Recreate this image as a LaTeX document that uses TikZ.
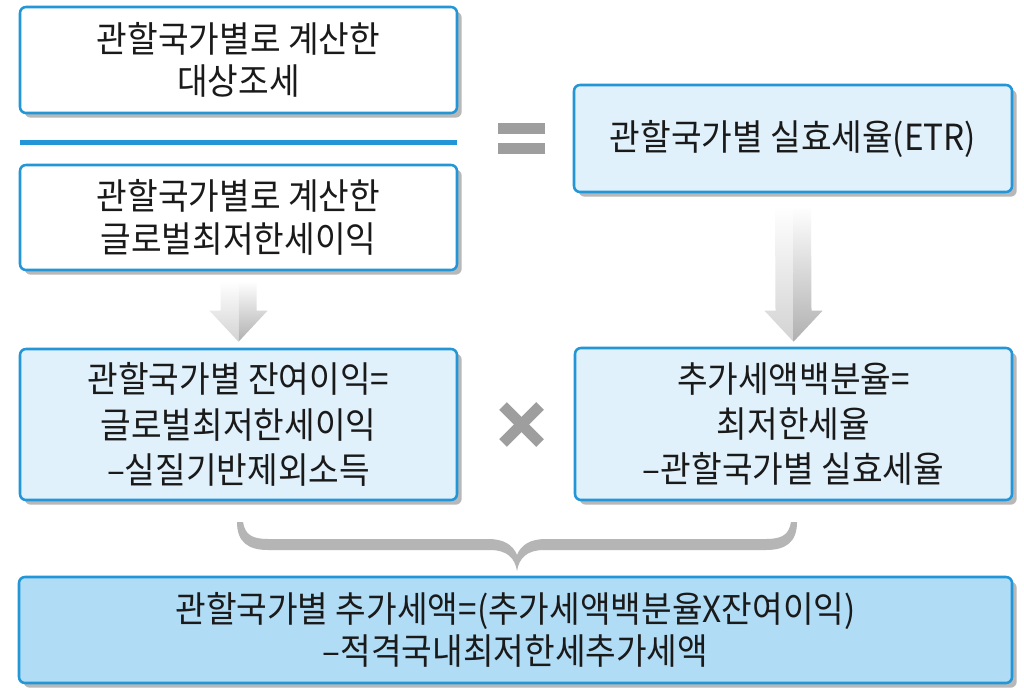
\documentclass[tikz,border=0pt]{standalone}
\usepackage{fontspec}
\newfontfamily\krfont[FakeStretch=0.925]{Noto Sans CJK KR}
\usetikzlibrary{calc,shadows}
\definecolor{bordblue}{HTML}{2396D7}
\definecolor{lightblue}{HTML}{E0F1FB}
\definecolor{midblue}{HTML}{B0DCF5}
\definecolor{shadowgray}{HTML}{B8B8B8}
\definecolor{signgray}{HTML}{9E9E9E}
\definecolor{bracegray}{HTML}{B5B5B5}
\definecolor{txt}{HTML}{1A1A1A}
\newcommand\pxu[1]{#1*0.75pt}
\begin{document}
\begin{tikzpicture}[x=0.75pt,y=-0.75pt,
  card/.style={draw=bordblue, line width=1.9pt, rounded corners=4.5pt, inner sep=0pt,
    align=center, text=txt, font=\krfont\fontsize{27}{32}\selectfont,
    drop shadow={shadow xshift=3.5pt, shadow yshift=-3.5pt, fill=shadowgray, opacity=1}},
  tall/.style={font=\krfont\fontsize{27}{34}\selectfont},
  whitecard/.style={card, fill=white},
  lightcard/.style={card, fill=lightblue},
  midcard/.style={card, fill=midblue},
  arrL/.style={top color=white, bottom color=gray!35, draw=none},
  arrR/.style={top color=white, bottom color=gray!62, draw=none}
]
\fill[white] (0,0) rectangle (1024,688);
\useasboundingbox (0,0) rectangle (1024,688);

% boxes
\node[whitecard, minimum width=\pxu{437}, minimum height=\pxu{106}] (b1) at (238.5,60)
  {관할국가별로 계산한\\대상조세};
\node[whitecard, minimum width=\pxu{437}, minimum height=\pxu{105}] (b2) at (238.5,217.5)
  {관할국가별로 계산한\\글로벌최저한세이익};
\node[lightcard, minimum width=\pxu{438}, minimum height=\pxu{107}] (etr) at (793,138.5)
  {관할국가별 실효세율(ETR)};
\node[lightcard, tall, minimum width=\pxu{437}, minimum height=\pxu{151}] (b3) at (238.5,424.5)
  {관할국가별 잔여이익=\\글로벌최저한세이익\\–실질기반제외소득};
\node[lightcard, tall, minimum width=\pxu{437}, minimum height=\pxu{152}] (b4) at (793.5,424)
  {추가세액백분율=\\최저한세율\\–관할국가별 실효세율};
\node[midcard, minimum width=\pxu{993}, minimum height=\pxu{106}] (b5) at (515.5,630)
  {관할국가별 추가세액=(추가세액백분율X잔여이익)\\–적격국내최저한세추가세액};

% fraction line
\draw[bordblue, line width=3.75pt] (20,142.5) -- (457,142.5);

% equals sign
\fill[signgray] (498,123) rectangle (545,134);
\fill[signgray] (498,143) rectangle (545,154);

% times sign
\draw[signgray, line width=8.2pt] (503,406) -- (540,443);
\draw[signgray, line width=8.2pt] (540,406) -- (503,443);

% block arrow b2 -> b3
\coordinate (a1top) at ($(b2.south)+(0,10)$);
\coordinate (a1tip) at ($(b3.north)+(0,-6)$);
\coordinate (a1hs) at ($(a1tip)+(0,-31)$);
\shade[arrL] ($(a1top)+(-18,0)$) -- ($(a1hs)+(-18,0)$) -- ($(a1hs)+(-29,0)$) -- (a1tip) -- (a1top) -- cycle;
\shade[arrR] ($(a1top)+(18,0)$) -- ($(a1hs)+(18,0)$) -- ($(a1hs)+(29,0)$) -- (a1tip) -- (a1top) -- cycle;

% block arrow etr -> b4
\coordinate (a2top) at ($(etr.south)+(0,13)$);
\coordinate (a2tip) at ($(b4.north)+(0,-5)$);
\coordinate (a2hs) at ($(a2tip)+(0,-31)$);
\shade[arrL] ($(a2top)+(-18,0)$) -- ($(a2hs)+(-18,0)$) -- ($(a2hs)+(-29,0)$) -- (a2tip) -- (a2top) -- cycle;
\shade[arrR] ($(a2top)+(18,0)$) -- ($(a2hs)+(18,0)$) -- ($(a2hs)+(29,0)$) -- (a2tip) -- (a2top) -- cycle;

% brace
\fill[bracegray] (237,522) .. controls (237,542) and (248,550) .. (268,550)
  -- (490,550) .. controls (507,550) and (515,558) .. (517,571)
  .. controls (519,558) and (527,550) .. (544,550)
  -- (766,550) .. controls (786,550) and (797,542) .. (797,522)
  -- (791,522) .. controls (789,534) and (783,539) .. (766,539)
  -- (546,539) .. controls (530,539) and (521,545) .. (517,555)
  .. controls (513,545) and (504,539) .. (488,539)
  -- (268,539) .. controls (251,539) and (245,534) .. (243,522) -- cycle;
\end{tikzpicture}
\end{document}
